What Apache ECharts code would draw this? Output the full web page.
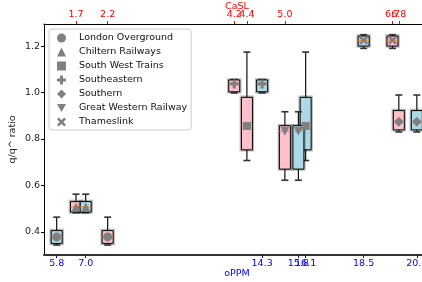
<!DOCTYPE html>
<html>
<head>
<meta charset="utf-8">
<script src="https://cdn.jsdelivr.net/npm/echarts@6/dist/echarts.min.js"></script>
<style>
html,body{margin:0;padding:0;background:#fff;}
#chart{width:422px;height:282px;}
</style>
</head>
<body>
<div id="chart"></div>
<script>
// ---- data ----
var operators = ['London Overground','Chiltern Railways','South West Trains','Southeastern','Southern','Great Western Railway','Thameslink'];
var caslPos = [2.2, 1.7, 4.4, 4.2, 6.8, 5.0, 6.7];     // top axis (pink boxes)
var oppmPos = [5.8, 7.0, 16.1, 14.3, 20.7, 15.8, 18.5]; // bottom axis (blue boxes)
// box stats: [whisker low, q1, median, q3, whisker high]
var boxStats = [
  [0.343, 0.350, 0.378, 0.405, 0.463],
  [0.482, 0.485, 0.507, 0.530, 0.562],
  [0.707, 0.753, 0.856, 0.979, 1.174],
  [0.998, 1.003, 1.037, 1.054, 1.056],
  [0.830, 0.839, 0.874, 0.922, 0.989],
  [0.622, 0.670, 0.833, 0.857, 0.917],
  [1.190, 1.200, 1.225, 1.243, 1.249]
];
var yTicks = [0.4, 0.6, 0.8, 1.0, 1.2];

var symbols = [
  'circle',
  'triangle',
  'rect',
  'path://M3.3,0h3.4v3.3h3.3v3.4h-3.3v3.3h-3.4v-3.3h-3.3v-3.4h3.3z',
  'path://M5,0L10,5L5,10L0,5Z',
  'path://M0,0L10,0L5,9Z',
  'path://M0,2L2,0L5,3L8,0L10,2L7,5L10,8L8,10L5,7L2,10L0,8L3,5Z'
];
var symSizes = [9, 9, 8, 9, 10, 9, 9];

function boxRender(fill) {
  return function (params, api) {
    var x = api.value(0);
    var lo = api.coord([x, api.value(1)]);
    var q1 = api.coord([x, api.value(2)]);
    var md = api.coord([x, api.value(3)]);
    var q3 = api.coord([x, api.value(4)]);
    var hi = api.coord([x, api.value(5)]);
    var cx = md[0], hw = 5.5, cw = 3.5;
    var h = Math.max(q1[1] - q3[1], 1);
    return {
      type: 'group',
      children: [
        {type: 'rect', shape: {x: cx - hw, y: q3[1], width: hw * 2, height: h},
         style: {fill: 'none', stroke: 'rgba(0,0,0,0.28)', lineWidth: 3.5}},
        {type: 'line', shape: {x1: cx, y1: q3[1], x2: cx, y2: hi[1]},
         style: {stroke: '#111', lineWidth: 1.2}},
        {type: 'line', shape: {x1: cx, y1: q1[1], x2: cx, y2: lo[1]},
         style: {stroke: '#111', lineWidth: 1.2}},
        {type: 'line', shape: {x1: cx - cw, y1: hi[1], x2: cx + cw, y2: hi[1]},
         style: {stroke: '#333', lineWidth: 1.6}},
        {type: 'line', shape: {x1: cx - cw, y1: lo[1], x2: cx + cw, y2: lo[1]},
         style: {stroke: '#333', lineWidth: 1.6}},
        {type: 'rect', shape: {x: cx - hw, y: q3[1], width: hw * 2, height: h},
         style: {fill: fill, stroke: '#000', lineWidth: 1}},
        {type: 'line', shape: {x1: cx - hw, y1: md[1], x2: cx + hw, y2: md[1]},
         style: {stroke: '#ff7f0e', lineWidth: 1}}
      ]
    };
  };
}

var pinkData = operators.map(function (n, i) { return [caslPos[i]].concat(boxStats[i]); });
var blueData = operators.map(function (n, i) { return [oppmPos[i]].concat(boxStats[i]); });

var series = [
  {type: 'custom', xAxisIndex: 1, yAxisIndex: 0, renderItem: boxRender('#ffc0cb'),
   data: pinkData, encode: {x: 0, y: [1, 2, 3, 4, 5]}, z: 2, silent: true},
  {type: 'custom', xAxisIndex: 0, yAxisIndex: 0, renderItem: boxRender('#add8e6'),
   data: blueData, encode: {x: 0, y: [1, 2, 3, 4, 5]}, z: 2, silent: true}
];
operators.forEach(function (name, i) {
  series.push({type: 'scatter', name: name, xAxisIndex: 1, symbol: symbols[i], symbolSize: symSizes[i],
    itemStyle: {color: '#808080', opacity: 1}, data: [[caslPos[i], boxStats[i][2]]], z: 3});
  series.push({type: 'scatter', name: name, xAxisIndex: 0, symbol: symbols[i], symbolSize: symSizes[i],
    itemStyle: {color: '#808080', opacity: 1}, data: [[oppmPos[i], boxStats[i][2]]], z: 3});
});

var font = 'DejaVu Sans';
var chart = echarts.init(document.getElementById('chart'), null, {renderer: 'canvas'});
chart.setOption({
  animation: false,
  backgroundColor: '#fff',
  textStyle: {fontFamily: font},
  grid: {left: 44, top: 24, width: 386, height: 231, containLabel: false, outerBoundsMode: 'none'},
  legend: {
    data: operators, orient: 'vertical', left: 49, top: 29,
    itemWidth: 9, itemHeight: 9, itemGap: 2,
    padding: [3, 4, 2, 8],
    backgroundColor: 'rgba(255,255,255,0.85)', borderColor: '#cccccc', borderWidth: 1, borderRadius: 3,
    textStyle: {fontFamily: font, fontSize: 9.5, color: '#111', lineHeight: 12, padding: [0, 0, 0, 8]},
    itemStyle: {color: '#808080', opacity: 1}
  },
  xAxis: [
    {type: 'value', position: 'bottom', min: 5.275, max: 21.245,
     splitLine: {show: false},
     axisLine: {lineStyle: {color: '#333', width: 2}},
     axisTick: {customValues: oppmPos, length: 3, lineStyle: {color: '#0000ff'}},
     axisLabel: {customValues: oppmPos, formatter: function (v) { return v.toFixed(1); },
       color: '#0000ff', fontSize: 9.5, fontFamily: font, margin: 4},
     name: 'oPPM', nameLocation: 'middle', nameGap: 14, nameMoveOverlap: false,
     nameTextStyle: {color: '#0000ff', fontSize: 9.5, fontFamily: font}},
    {type: 'value', position: 'top', min: 1.1945, max: 7.2925,
     splitLine: {show: false},
     axisLine: {lineStyle: {color: '#000', width: 1}},
     axisTick: {customValues: caslPos, length: 3, lineStyle: {color: '#ff0000'}},
     axisLabel: {customValues: caslPos, formatter: function (v) { return v.toFixed(1); },
       color: '#ff0000', fontSize: 9.5, fontFamily: font, margin: 4},
     name: 'CaSL', nameLocation: 'middle', nameGap: 12.5, nameMoveOverlap: false,
     nameTextStyle: {color: '#ff0000', fontSize: 9.5, fontFamily: font}}
  ],
  yAxis: [{
    type: 'value', min: 0.3, max: 1.295,
    splitLine: {show: false},
    axisLine: {show: true, lineStyle: {color: '#000', width: 1}},
    axisTick: {show: true, customValues: yTicks, length: 3, lineStyle: {color: '#000'}},
    axisLabel: {customValues: yTicks, formatter: function (v) { return v.toFixed(1); },
      color: '#222', fontSize: 9.5, fontFamily: font, margin: 4},
    name: 'q/q^ ratio', nameLocation: 'middle', nameGap: 26.5, nameRotate: 90, nameMoveOverlap: false,
    nameTextStyle: {color: '#222', fontSize: 9.5, fontFamily: font}
  }],
  series: series
});
</script>
</body>
</html>
